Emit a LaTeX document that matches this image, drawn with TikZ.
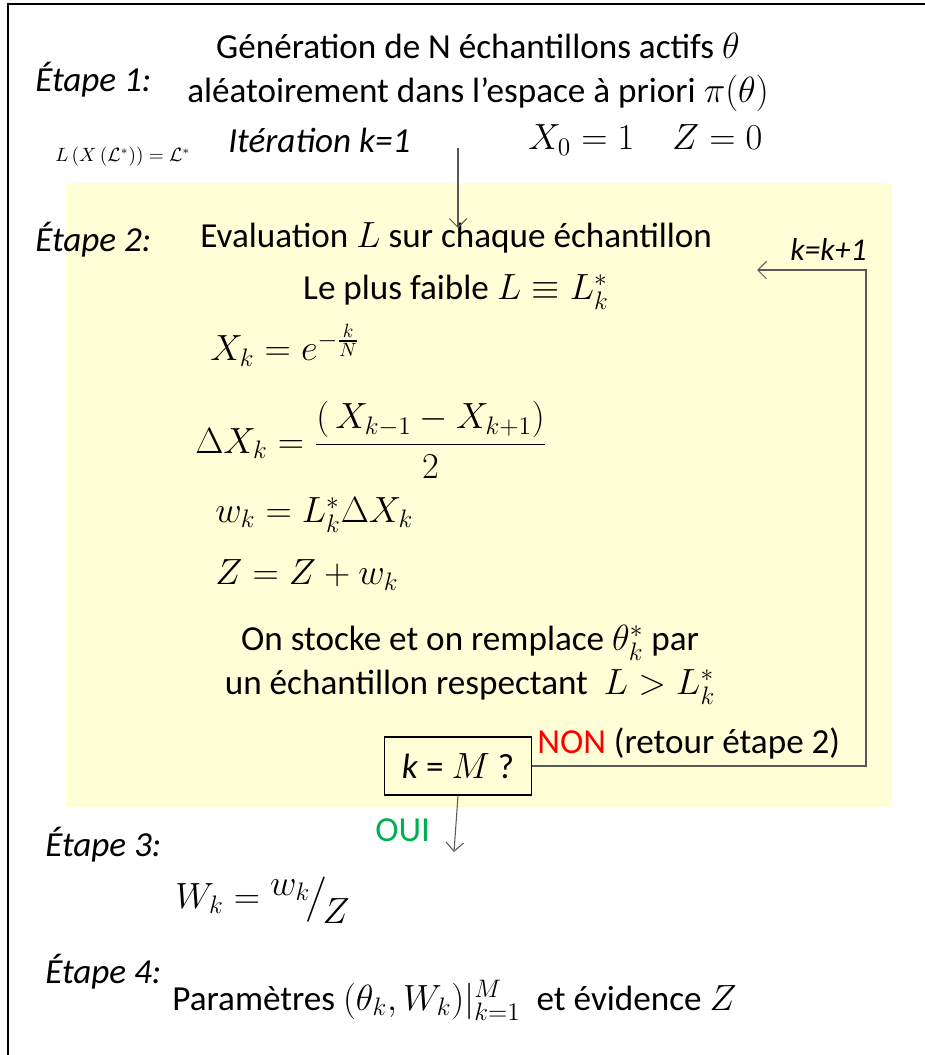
\documentclass[tikz,border=0pt]{standalone}
\usepackage{amsmath,amssymb}
\usepackage{fontspec}
\setmainfont{Carlito}
\usepackage{tikz}
\usetikzlibrary{arrows.meta,positioning}
\definecolor{Fond}{HTML}{FFFFD7}
\definecolor{Non}{HTML}{FF0000}
\definecolor{Oui}{HTML}{00B050}
\definecolor{Fil}{HTML}{595959}
\newcommand{\txt}{\fontsize{20}{25}\selectfont}
\newcommand{\mth}{\fontsize{21.5}{25}\selectfont}

\begin{document}
\begin{tikzpicture}[x=0.02cm,y=-0.02cm,>={Straight Barb[length=5pt,width=10pt]},
  etape/.style={font=\txt\itshape,anchor=west,inner sep=0pt},
  texte/.style={font=\txt,inner sep=0pt},
  formule/.style={font=\mth,anchor=west,inner sep=0pt},
  fil/.style={draw=Fil,line width=0.6pt}]
  \useasboundingbox (0,0) rectangle (925,1055);
  \fill[Fond] (66,183) rectangle (892,807);
  \draw[line width=1.2pt] (8,1055) -- (8,4) -- (925,4);

  % etape 1
  \node[etape] (et1) at (35,80) {Étape 1:};
  \node[texte,align=center] (gen) at (478,72)
    {Génération de N échantillons actifs $\theta$\\
     aléatoirement dans l’espace à priori $\pi(\theta)$};
  \node[etape] (iter) at (228,140) {Itération k=1};
  \node[formule] (init) at (528,140) {$X_0 = 1 \quad Z = 0$};
  \node[anchor=west,inner sep=0pt,font=\fontsize{10.5}{12}\selectfont] (lx) at (55,157)
    {$L\left(X\left(\mathcal{L}^*\right)\right) = \mathcal{L}^*$};

  % etape 2
  \node[etape] (et2) at (35,240) {Étape 2:};
  \node[texte,anchor=west] (eval) at (200,238) {Evaluation $L$ sur chaque échantillon};
  \node[etape,font=\fontsize{18}{20}\selectfont\itshape] (kk) at (790,250) {k=k+1};
  \node[texte] (faible) at (456,292) {Le plus faible $L \equiv L_k^*$};
  \node[formule] (xk) at (210,345) {$X_k = e^{-\frac{k}{N}}$};
  \node[formule] (dx) at (195,440) {$\displaystyle \Delta X_k = \frac{(\,X_{k-1} - X_{k+1})}{2}$};
  \node[formule] (wk) at (215,515) {$w_k = L_k^* \Delta X_k$};
  \node[formule] (zz) at (215,575) {$Z = Z + w_k$};
  \node[texte,align=center] (stock) at (470,665)
    {On stocke et on remplace $\theta_k^*$ par\\
     un échantillon respectant ~$L > L_k^*$};
  \node[draw,fill=Fond,line width=0.6pt,minimum width=147*0.02cm,minimum height=58*0.02cm,font=\txt]
    (test) at (458,766) {\textit{k} = $M$ ?};
  \node[texte,anchor=west] (non) at (537,743) {\textcolor{Non}{NON} (retour étape 2)};

  % etape 3 et 4
  \node[texte,anchor=west,text=Oui] (oui) at (375,830) {OUI};
  \node[etape] (et3) at (45,845) {Étape 3:};
  \node[formule] (Wk) at (175,900) {$W_k = {}^{\textstyle w_k}\!\big/_{\!\textstyle Z}$};
  \node[etape] (et4) at (45,972) {Étape 4:};
  \node[texte,anchor=west] (param) at (172,1000)
    {Paramètres $(\theta_k, W_k)|_{k=1}^{M}$ ~et évidence $Z$};

  % fleches
  \coordinate (debut) at (458,148);
  \coordinate (entree) at (458,228);
  \coordinate (coin) at (866,270);
  \coordinate (retour) at (757,270);
  \coordinate (sortie) at (454,852);
  \draw[fil,->] (debut) -- (entree);
  \draw[fil,->] (test.east) -| (coin) -- (retour);
  \draw[fil,->] (test.south) -- (sortie);
\end{tikzpicture}
\end{document}
